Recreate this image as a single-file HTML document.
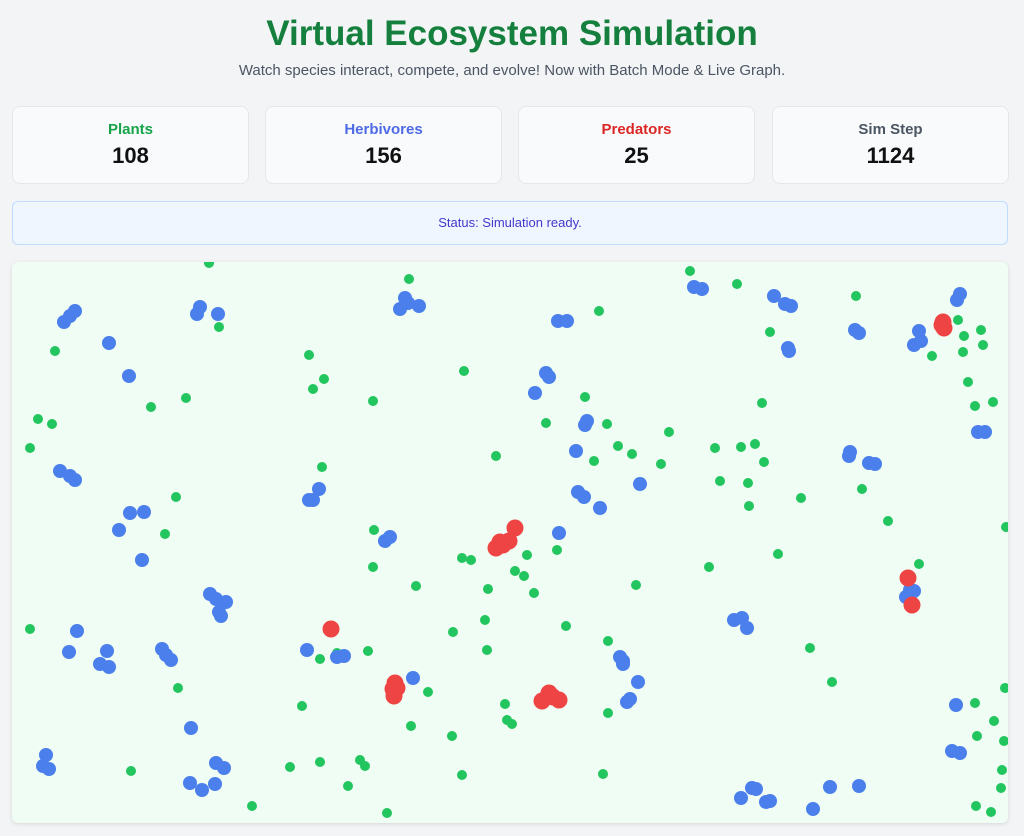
<!DOCTYPE html>
<html><head><meta charset="utf-8"><style>
body{margin:0;background:#f3f4f6;font-family:"Liberation Sans",sans-serif;width:1024px;height:836px;overflow:hidden;position:relative}
h1{position:absolute;top:14px;left:0;width:1024px;text-align:center;margin:0;font-size:35px;font-weight:bold;color:#15803d}
.sub{position:absolute;top:62px;left:0;width:1024px;text-align:center;font-size:15px;color:#4b5563}
.card{position:absolute;top:106px;width:237px;height:78px;background:#f8fafc;border:1px solid #e5e7eb;border-radius:8px;text-align:center;box-sizing:border-box}
.card .l{margin-top:14px;font-size:15px;font-weight:bold}
.card .v{margin-top:5px;font-size:22px;font-weight:bold;color:#111}
.status{position:absolute;left:12px;top:201px;width:996px;height:44px;box-sizing:border-box;background:#eff6ff;border:1px solid #bfdbfe;border-radius:6px;text-align:center;line-height:42px;font-size:13px;color:#4338ca}
.canvas{position:absolute;left:12px;top:262px;width:996px;height:561px;background:#f0fdf4;border-radius:6px;box-shadow:0 1px 4px rgba(0,0,0,.12)}
svg{position:absolute;left:0;top:0}
</style></head><body>
<h1>Virtual Ecosystem Simulation</h1>
<div class="sub">Watch species interact, compete, and evolve! Now with Batch Mode &amp; Live Graph.</div>
<div class="card" style="left:12px"><div class="l" style="color:#16a34a">Plants</div><div class="v">108</div></div>
<div class="card" style="left:265px"><div class="l" style="color:#4f6ae6">Herbivores</div><div class="v">156</div></div>
<div class="card" style="left:518px"><div class="l" style="color:#dc2626">Predators</div><div class="v">25</div></div>
<div class="card" style="left:772px"><div class="l" style="color:#4b5563">Sim Step</div><div class="v">1124</div></div>
<div class="status">Status: Simulation ready.</div>
<div class="canvas"></div>
<svg width="1024" height="836">
<defs><clipPath id="c"><rect x="12" y="262" width="996" height="561" rx="6"/></clipPath></defs>
<g clip-path="url(#c)">
<g fill="#22c55e" id="g"></g>
<g fill="#4a7fec" id="b"></g>
<g fill="#ef4444" id="r"></g>
</g>
</svg>
<script>
var G=[[209,263],[409,279],[219,327],[55,351],[309,355],[324,379],[313,389],[464,371],[373,401],[151,407],[186,398],[38,419],[52,424],[30,448],[322,467],[176,497],[165,534],[374,530],[496,456],[599,311],[585,397],[546,423],[607,424],[618,446],[594,461],[632,454],[661,464],[669,432],[715,448],[741,447],[755,444],[764,462],[720,481],[748,483],[749,506],[801,498],[762,403],[737,284],[690,271],[856,296],[770,332],[958,320],[964,336],[981,330],[983,345],[963,352],[932,356],[968,382],[975,406],[993,402],[862,489],[888,521],[919,564],[1006,527],[778,554],[709,567],[636,585],[557,550],[527,555],[515,571],[524,576],[534,593],[471,560],[462,558],[488,589],[485,620],[416,586],[373,567],[453,632],[487,650],[566,626],[608,641],[30,629],[178,688],[320,659],[337,653],[368,651],[428,692],[302,706],[411,726],[452,736],[505,704],[507,720],[512,724],[608,713],[810,648],[832,682],[975,703],[1005,688],[994,721],[977,736],[1004,741],[1002,770],[1001,788],[976,806],[991,812],[603,774],[462,775],[387,813],[365,766],[360,760],[320,762],[290,767],[252,806],[131,771],[348,786]];
var B=[[64,322],[70,316],[75,311],[200,307],[197,314],[218,314],[109,343],[129,376],[405,298],[400,309],[408,303],[419,306],[558,321],[567,321],[546,373],[549,377],[535,393],[587,421],[585,425],[576,451],[578,492],[584,497],[600,508],[640,484],[559,533],[694,287],[702,289],[774,296],[785,304],[791,306],[788,348],[789,351],[855,330],[859,333],[919,331],[914,345],[921,341],[957,300],[960,294],[978,432],[985,432],[849,456],[850,452],[869,463],[875,464],[60,471],[70,476],[75,480],[130,513],[144,512],[119,530],[142,560],[313,500],[309,500],[319,489],[385,541],[390,537],[210,594],[216,599],[226,602],[219,612],[221,616],[77,631],[69,652],[107,651],[100,664],[109,667],[162,649],[166,655],[171,660],[307,650],[337,657],[344,656],[413,678],[620,657],[623,664],[623,661],[638,682],[627,702],[630,699],[191,728],[46,755],[43,766],[49,769],[190,783],[202,790],[216,763],[224,768],[215,784],[734,620],[742,618],[747,628],[752,788],[741,798],[756,789],[766,802],[770,801],[813,809],[830,787],[859,786],[956,705],[952,751],[960,753],[910,590],[906,597],[914,591]];
var R=[[943,322],[944,328],[942,325],[908,578],[912,605],[515,528],[509,541],[500,542],[496,548],[503,545],[331,629],[395,683],[393,689],[394,696],[397,688],[549,693],[542,701],[559,700],[553,697]];
function d(id,a,r){var g=document.getElementById(id),s='';a.forEach(function(p){s+='<circle cx="'+p[0]+'" cy="'+p[1]+'" r="'+r+'"/>'});g.innerHTML=s;}
d('g',G,5);d('b',B,7);d('r',R,8.5);
</script>
</body></html>
